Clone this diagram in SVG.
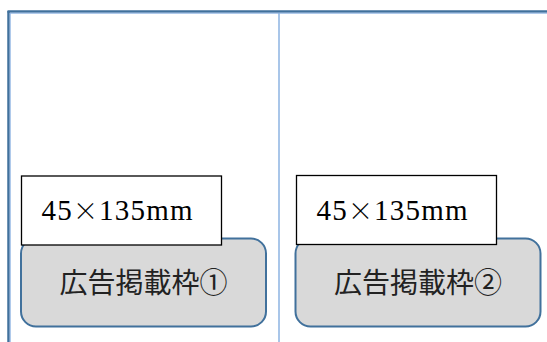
<svg xmlns="http://www.w3.org/2000/svg" width="547" height="342" viewBox="0 0 547 342">
<style>
.frame{stroke:#41719c;stroke-width:2.5;fill:none}
.inner{stroke:#8db3e2;stroke-width:1;fill:none}
.mid{stroke:#8db3e2;stroke-width:1.5;fill:none}
.slot{fill:#d9d9d9;stroke:#41719c;stroke-width:2}
.size{fill:#ffffff;stroke:#000000;stroke-width:1.3}
.sizeText{font-family:"Liberation Serif","Noto Sans CJK JP",serif;font-size:29px;fill:#000}
.times{font-family:"Noto Sans CJK JP",sans-serif;font-weight:300;font-size:25px}
.slotText{font-family:"Noto Sans CJK JP",sans-serif;font-size:28px;fill:#222;text-anchor:middle}
</style>
<rect width="547" height="342" fill="#ffffff"/>
<g id="frame">
<line class="frame" x1="7.5" y1="11.5" x2="547" y2="11.5"/>
<line class="frame" x1="8.5" y1="11" x2="8.5" y2="342"/>
<line class="inner" x1="10" y1="13.2" x2="547" y2="13.2"/>
<line class="inner" x1="10.2" y1="13" x2="10.2" y2="342"/>
<line class="mid" x1="279" y1="13" x2="279" y2="342"/>
</g>
<g id="slot1">
<rect class="slot" x="21" y="238.5" width="245" height="88" rx="15" ry="15"/>
<text class="slotText" x="143.5" y="292.5">広告掲載枠①</text>
</g>
<g id="size1">
<rect class="size" x="21.5" y="176" width="200" height="69"/>
<text class="sizeText" x="41.5" y="220" textLength="151" lengthAdjust="spacing">45<tspan class="times">×</tspan>135mm</text>
</g>
<g id="slot2">
<rect class="slot" x="295.5" y="238.5" width="245" height="88" rx="15" ry="15"/>
<text class="slotText" x="418" y="292.5">広告掲載枠②</text>
</g>
<g id="size2">
<rect class="size" x="296.5" y="175.5" width="200" height="69"/>
<text class="sizeText" x="316.5" y="220" textLength="151" lengthAdjust="spacing">45<tspan class="times">×</tspan>135mm</text>
</g>
<g id="connectors"></g>
</svg>
